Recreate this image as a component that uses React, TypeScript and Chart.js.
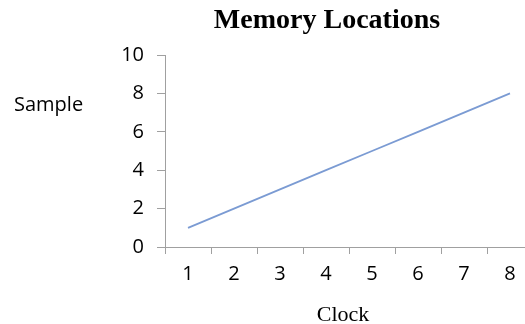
import React, { useEffect, useRef } from "react";
import { Chart, registerables } from "chart.js";

Chart.register(...registerables);

const clockLabels = ["1", "2", "3", "4", "5", "6", "7", "8"];
const sampleValues = [1, 2, 3, 4, 5, 6, 7, 8];
const yMin = 0;
const yMax = 10;
const yStep = 2;
const titleText = "Memory Locations";
const xTitleText = "Clock";
const yTitleText = "Sample";

const textPlugin = {
  id: "textPlugin",
  afterDraw(chart: any) {
    const ctx = chart.ctx;
    ctx.save();
    ctx.fillStyle = "#000";
    ctx.textBaseline = "middle";
    ctx.textAlign = "left";
    ctx.font = "20px 'Open Sans'";
    ctx.fillText(yTitleText, 14, 105);
    ctx.textAlign = "center";
    ctx.font = "bold 28px 'Liberation Serif', 'Times New Roman', serif";
    ctx.fillText(titleText, 327, 21);
    ctx.font = "22px 'Liberation Serif', 'Times New Roman', serif";
    ctx.fillText(xTitleText, 343, 315);
    ctx.restore();
  },
};

export default function App() {
  const ref = useRef<HTMLCanvasElement>(null);
  useEffect(() => {
    const chart = new Chart(ref.current!, {
      type: "line",
      data: {
        labels: clockLabels,
        datasets: [
          {
            data: sampleValues,
            borderColor: "#7b9bd3",
            borderWidth: 1.8,
            pointRadius: 0,
            fill: false,
            tension: 0,
          },
        ],
      },
      options: {
        responsive: false,
        animation: false,
        layout: { padding: { left: 0, right: 7, top: 55, bottom: 0 } },
        plugins: {
          legend: { display: false },
          tooltip: { enabled: false },
          title: { display: false },
        },
        scales: {
          x: {
            type: "category",
            offset: true,
            grid: { offset: true, drawOnChartArea: false, drawTicks: true, tickLength: 7, color: "#a0a0a0", lineWidth: 1 },
            border: { color: "#a0a0a0", width: 1 },
            ticks: {
              color: "#000",
              font: { family: "'Open Sans'", size: 20, lineHeight: 1.2 },
              padding: 8,
              maxRotation: 0,
              autoSkip: false,
            },
            afterFit: (s: any) => {
              s.height = 83;
            },
          },
          y: {
            min: yMin,
            max: yMax,
            grid: { drawOnChartArea: false, drawTicks: true, tickLength: 8, color: "#a0a0a0", lineWidth: 1 },
            border: { color: "#a0a0a0", width: 1 },
            ticks: {
              stepSize: yStep,
              color: "#000",
              font: { family: "'Open Sans'", size: 20, lineHeight: 1.2 },
              padding: 13,
            },
            afterFit: (s: any) => {
              s.width = 165;
            },
          },
        },
      },
      plugins: [textPlugin],
    });
    return () => chart.destroy();
  }, []);
  return (
    <div style={{ position: "fixed", left: 0, top: 0, width: 525, height: 324, overflow: "hidden", background: "#fff" }}>
      <canvas ref={ref} width={540} height={330} style={{ display: "block", width: 540, height: 330 }} />
    </div>
  );
}
